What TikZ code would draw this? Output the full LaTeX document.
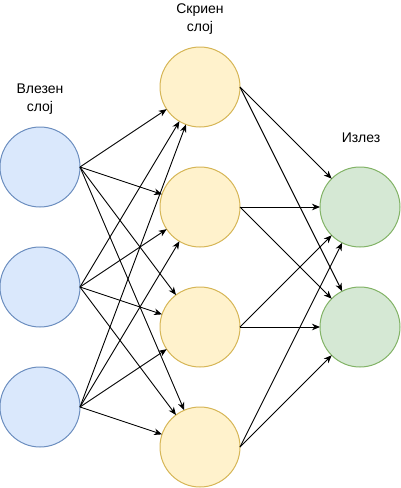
\documentclass[tikz,border=0pt]{standalone}
\usepackage{fontspec}
\setmainfont{Liberation Sans}
\usetikzlibrary{arrows.meta}
\definecolor{inFill}{HTML}{DAE8FC}
\definecolor{inStroke}{HTML}{6C8EBF}
\definecolor{hidFill}{HTML}{FFF2CC}
\definecolor{hidStroke}{HTML}{D6B656}
\definecolor{outFill}{HTML}{D5E8D4}
\definecolor{outStroke}{HTML}{82B366}
\begin{document}
\begin{tikzpicture}[x=1pt,y=-1pt,
  neuron/.style={circle, minimum size=80pt, inner sep=0pt, outer sep=0pt, line width=1pt},
  innode/.style={neuron, draw=inStroke, fill=inFill},
  hidnode/.style={neuron, draw=hidStroke, fill=hidFill},
  outnode/.style={neuron, draw=outStroke, fill=outFill},
  conn/.style={-{Stealth[length=8pt,width=6.5pt,inset=2.5pt]}, line width=0.9pt, black},
  lbl/.style={font=\fontsize{14}{17.5}\selectfont, align=center, inner sep=0pt, anchor=base}]
\useasboundingbox (0,0) rectangle (401,488);
% input layer
\node[innode] (i1) at (40,167) {};
\node[innode] (i2) at (40,287) {};
\node[innode] (i3) at (40,407) {};
% hidden layer
\node[hidnode] (h1) at (200,87) {};
\node[hidnode] (h2) at (200,207) {};
\node[hidnode] (h3) at (200,327) {};
\node[hidnode] (h4) at (200,447) {};
% output layer
\node[outnode] (o1) at (360,207) {};
\node[outnode] (o2) at (360,327) {};
% labels
\node[lbl] (lin) at (40,111) {Влезен\\слој};
\node[lbl] (lhid) at (200,31) {Скриен\\слој};
\node[lbl] (lout) at (361,142) {Излез};
% connections
\foreach \i in {1,2,3}
  \foreach \j in {1,2,3,4}
    \draw[conn] (i\i.east) -- (h\j);
\foreach \j in {1,2,3,4}
  \foreach \k in {1,2}
    \draw[conn] (h\j.east) -- (o\k);
\end{tikzpicture}
\end{document}
